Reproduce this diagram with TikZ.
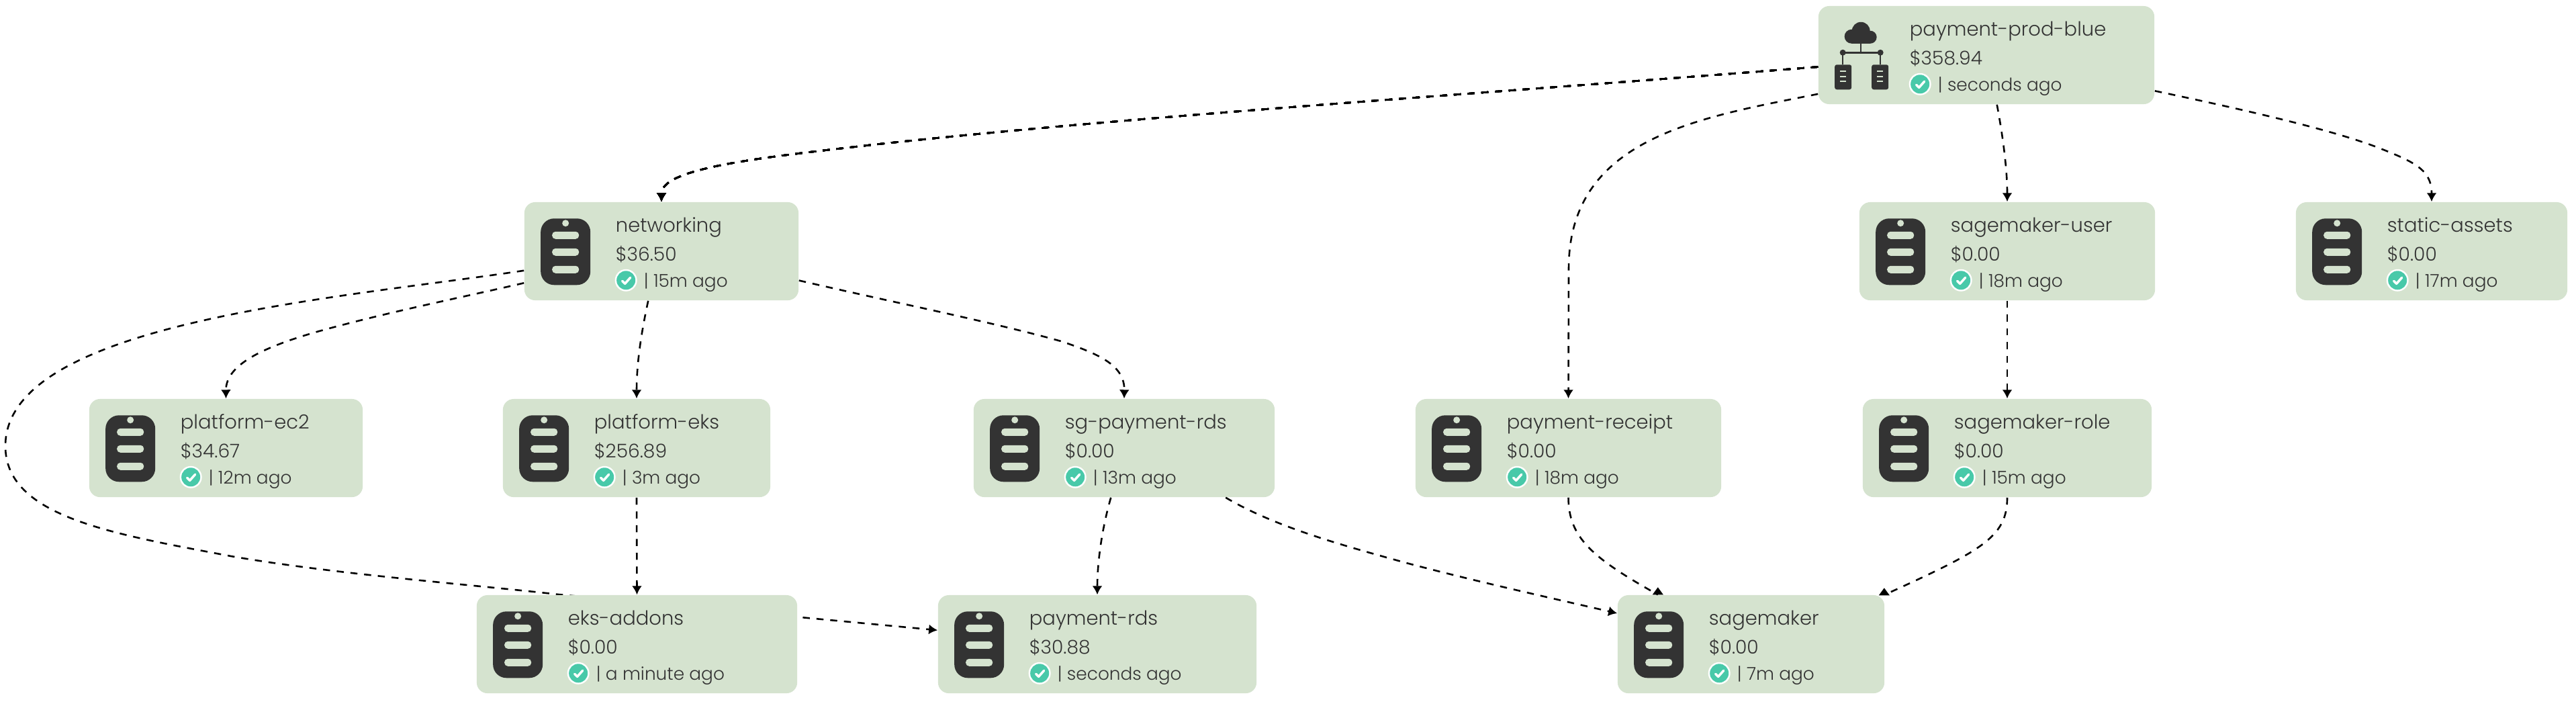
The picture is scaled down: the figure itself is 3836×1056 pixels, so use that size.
\documentclass[tikz,border=0pt]{standalone}
\usepackage{fontspec}
\setmainfont{Poppins}[UprightFont=* Light]
\usetikzlibrary{arrows.meta}
\definecolor{cardgreen}{HTML}{D5E3CF}
\definecolor{icondark}{HTML}{333333}
\definecolor{okgreen}{HTML}{48C9A9}
\tikzset{
  card/.style={fill=cardgreen,rounded corners=0.16cm,minimum height=1.46cm,inner sep=0pt},
  cardline/.style={anchor=base west,inner sep=0pt,text=icondark,font=\fontsize{8.25}{10}\selectfont},
  cardcost/.style={cardline,font=\fontsize{8}{10}\selectfont},
  cardstatus/.style={cardline,font=\fontsize{7.5}{10}\selectfont},
  depline/.style={draw=black,line width=0.026cm,dash pattern=on 0.105cm off 0.1cm},
  dep/.style={depline,>={Latex[length=1.3mm,width=1.5mm]},->},
}
\newcommand{\cardtext}[4]{
  \node[cardline] (#1title) at ([shift={(136,45)}]#1.north west) {#2};
  \node[cardcost] (#1cost) at ([shift={(136,88)}]#1.north west) {#3};
  \node[cardstatus] (#1status) at ([shift={(178,127)}]#1.north west) {#4};
  \begin{scope}[shift={(#1.north west)}]
    \fill[white] (152,117) circle (0.165cm);
    \fill[okgreen] (152,117) circle (0.14cm);
    \draw[white,line width=0.035cm,line cap=round,line join=round] (146.5,118)--(150.5,122)--(158.5,113);
  \end{scope}
}
\newcommand{\tagicon}[1]{
  \begin{scope}[shift={(#1.north west)}]
    \fill[icondark,rounded corners=0.2cm] (25,25) rectangle (99,124);
    \fill[cardgreen] (62,32) circle (0.05cm);
    \foreach \ybar in {50,75,101}
      \fill[cardgreen,rounded corners=0.05cm] (42,\ybar-5.5) rectangle (82,\ybar+5.5);
  \end{scope}
}
\newcommand{\cloudicon}[1]{
  \begin{scope}[shift={(#1.north west)}]
    \fill[icondark] (64,38) circle (0.135cm);
    \fill[icondark] (50,46) circle (0.105cm);
    \fill[icondark] (78,47) circle (0.095cm);
    \fill[icondark] (50,46) rectangle (78,56.5);
    \draw[icondark,line width=0.025cm] (64,56)--(64,70);
    \draw[icondark,line width=0.025cm] (37,88)--(37,70)--(93,70)--(93,88);
    \fill[icondark] (37,70) circle (0.045cm);
    \fill[icondark] (93,70) circle (0.045cm);
    \foreach \xsrv in {25,80} {
      \fill[icondark,rounded corners=0.03cm] (\xsrv,88) rectangle (\xsrv+25,125);
      \foreach \ysrv in {98,106,113}
        \fill[cardgreen] (\xsrv+8,\ysrv-1) rectangle (\xsrv+17,\ysrv+1);
    }
  \end{scope}
}
\begin{document}
\begin{tikzpicture}[x=0.01cm,y=-0.01cm]
\useasboundingbox (0,0) rectangle (3836,1056);
\node[card,minimum width=5cm] (prodblue) at (2958,82) {};
\node[card,minimum width=4.08cm] (networking) at (985,374) {};
\node[card,minimum width=4.4cm] (smuser) at (2989,374) {};
\node[card,minimum width=4.04cm] (assets) at (3621,374) {};
\node[card,minimum width=4.07cm] (ectwo) at (336.5,667) {};
\node[card,minimum width=3.98cm] (eks) at (948,667) {};
\node[card,minimum width=4.48cm] (sgrds) at (1674,667) {};
\node[card,minimum width=4.55cm] (receipt) at (2335.5,667) {};
\node[card,minimum width=4.3cm] (smrole) at (2989,667) {};
\node[card,minimum width=4.74cm] (rds) at (1634,959) {};
\node[card,minimum width=3.97cm] (sagemaker) at (2607.5,959) {};
\draw[dep] (networking.188) .. controls (500,445) and (8,480) .. (8,664) .. controls (8,770) and (170,795) .. (344,828) .. controls (500,855) and (700,870) .. (832,885) -- (rds.175);
\node[card,minimum width=4.77cm] (addons) at (948.5,959) {};
\cardtext{prodblue}{payment-prod-blue}{\$358.94}{| seconds ago}
\cardtext{networking}{networking}{\$36.50}{| 15m ago}
\cardtext{smuser}{sagemaker-user}{\$0.00}{| 18m ago}
\cardtext{assets}{static-assets}{\$0.00}{| 17m ago}
\cardtext{ectwo}{platform-ec2}{\$34.67}{| 12m ago}
\cardtext{eks}{platform-eks}{\$256.89}{| 3m ago}
\cardtext{sgrds}{sg-payment-rds}{\$0.00}{| 13m ago}
\cardtext{receipt}{payment-receipt}{\$0.00}{| 18m ago}
\cardtext{smrole}{sagemaker-role}{\$0.00}{| 15m ago}
\cardtext{addons}{eks-addons}{\$0.00}{| a minute ago}
\cardtext{rds}{payment-rds}{\$30.88}{| seconds ago}
\cardtext{sagemaker}{sagemaker}{\$0.00}{| 7m ago}
\cloudicon{prodblue}
\foreach \nm in {networking,smuser,assets,ectwo,eks,sgrds,receipt,smrole,addons,rds,sagemaker}
  \tagicon{\nm}
\draw[dep] (prodblue.184) .. controls (2200,140) and (1700,172) .. (1304,215) .. controls (1130,235) and (985,250) .. (networking.north);
\draw[dep] (prodblue.193) .. controls (2530,175) and (2336,205) .. (2336,400) -- (receipt.north);
\draw[dep] (prodblue.282) .. controls (2982,200) and (2989,250) .. (smuser.north);
\draw[dep] (prodblue.348) .. controls (3350,165) and (3480,195) .. (3547,222) .. controls (3600,243) and (3621,255) .. (assets.north);
\draw[dep] (smuser.south) -- (smrole.north);
\draw[dep] (networking.193) .. controls (700,440) and (600,460) .. (505,485) .. controls (400,512) and (336,540) .. (ectwo.north);
\draw[dep] (networking.255) .. controls (955,495) and (948,540) .. (eks.north);
\draw[dep] (networking.348) .. controls (1330,450) and (1480,480) .. (1580,508) .. controls (1640,528) and (1675,545) .. (sgrds.north);
\draw[dep] (eks.south) -- (addons.north);
\draw[dep] (sgrds.255) .. controls (1640,790) and (1634,840) .. (rds.north);
\draw[dep] (sgrds.334) .. controls (1900,785) and (2000,812) .. (2094,838) .. controls (2200,866) and (2300,888) .. (sagemaker.167);
\draw[depline] (receipt.south) .. controls (2336,800) and (2370,830) .. (sagemaker.152);
\draw[depline] (smrole.south) .. controls (2989,800) and (2950,820) .. (sagemaker.north east);
\fill (sagemaker.152) ++(0,-11) -- ++(8,11) -- ++(-16,0) -- cycle;
\fill (sagemaker.north east) ++(-1,-10) -- ++(8,11) -- ++(-16,0) -- cycle;
\end{tikzpicture}
\end{document}
